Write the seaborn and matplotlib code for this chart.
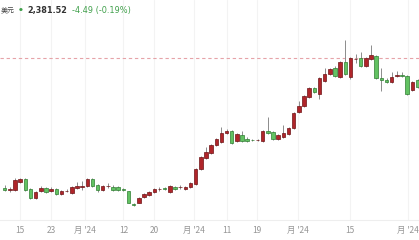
import numpy as np
import pandas as pd
import matplotlib
matplotlib.use("Agg")
import matplotlib.pyplot as plt
import seaborn as sns

# ---- data ----
opens = [2024.8, 2017.7, 2018.5, 2040.5, 2048.8, 2021.3, 1996.5, 2015.8, 2024.0, 2015.8,
         2021.3, 2007.5, 2015.8, 2010.3, 2024.0, 2028.1, 2029.5, 2048.8, 2032.3, 2018.5,
         2028.7, 2026.8, 2026.8, 2021.3, 2014.4, 1980.0, 1984.1, 1999.3, 2004.8, 2013.0,
         2020.4, 2022.6, 2013.0, 2026.8, 2026.2, 2021.3, 2026.8, 2035.0, 2076.3, 2106.5,
         2120.3, 2142.3, 2150.5, 2175.3, 2180.8, 2153.3, 2169.8, 2158.8, 2156.8, 2155.2,
         2153.3, 2179.9, 2178.0, 2158.8, 2164.3, 2172.5, 2189.0, 2233.0, 2249.5, 2274.3,
         2299.0, 2282.5, 2318.3, 2337.5, 2354.0, 2329.3, 2370.5, 2329.3, 2378.0, 2381.5,
         2359.5, 2378.8, 2387.0, 2326.5, 2321.0, 2315.5, 2332.6, 2334.8, 2332.0, 2293.5,
         2321.0]
closes = [2018.5, 2021.3, 2046.0, 2048.8, 2018.5, 1996.5, 2013.0, 2024.0, 2013.0, 2021.3,
          2007.5, 2015.8, 2017.1, 2026.8, 2029.5, 2029.0, 2048.8, 2029.5, 2018.5, 2029.5,
          2030.3, 2018.5, 2018.5, 2017.7, 1984.1, 1978.6, 1996.5, 2007.5, 2013.0, 2019.9,
          2021.3, 2021.8, 2029.5, 2021.3, 2026.8, 2026.8, 2037.8, 2076.3, 2109.3, 2123.0,
          2142.3, 2158.8, 2175.3, 2180.8, 2147.8, 2172.5, 2153.3, 2153.3, 2155.5, 2156.6,
          2180.8, 2176.6, 2158.8, 2169.8, 2175.3, 2189.0, 2230.3, 2249.5, 2277.0, 2299.0,
          2288.0, 2326.5, 2337.5, 2351.3, 2332.0, 2370.5, 2337.5, 2381.5, 2379.3, 2359.5,
          2381.5, 2389.8, 2326.5, 2321.0, 2315.5, 2329.3, 2334.2, 2333.1, 2282.5, 2315.5,
          2301.8]
highs = [2030.9, 2026.8, 2051.5, 2051.5, 2051.5, 2024.0, 2015.8, 2029.5, 2026.8, 2028.1,
         2024.0, 2018.5, 2021.3, 2029.5, 2040.5, 2043.3, 2052.3, 2051.5, 2035.0, 2032.3,
         2037.8, 2032.3, 2029.5, 2024.0, 2017.1, 1982.8, 1999.3, 2010.3, 2015.8, 2024.0,
         2025.4, 2026.8, 2032.3, 2029.5, 2030.9, 2029.5, 2040.5, 2079.0, 2112.0, 2136.8,
         2145.0, 2161.5, 2191.8, 2184.9, 2183.5, 2175.3, 2180.8, 2164.3, 2160.1, 2160.1,
         2183.5, 2219.3, 2180.8, 2172.5, 2195.9, 2191.8, 2233.0, 2263.3, 2279.8, 2301.8,
         2303.1, 2329.3, 2354.0, 2354.0, 2359.5, 2373.3, 2431.0, 2384.3, 2393.3, 2397.2,
         2384.3, 2417.3, 2389.8, 2354.0, 2326.5, 2343.8, 2345.8, 2343.0, 2334.8, 2318.3,
         2323.8]
lows = [2014.4, 2013.0, 2015.8, 2037.8, 2015.8, 1993.8, 1993.8, 2013.0, 2010.3, 2013.0,
        2004.8, 2004.8, 2013.0, 2007.5, 2021.3, 2017.7, 2026.8, 2026.8, 2012.2, 2015.8,
        2023.2, 2015.8, 2015.8, 2015.8, 1981.4, 1974.5, 1981.4, 1996.5, 2002.0, 2010.3,
        2017.1, 2018.5, 2010.3, 2018.5, 2022.6, 2018.5, 2024.0, 2032.3, 2073.5, 2103.8,
        2117.5, 2139.5, 2147.8, 2172.5, 2145.0, 2150.5, 2150.5, 2150.5, 2151.9, 2151.9,
        2150.5, 2172.5, 2156.0, 2156.0, 2161.5, 2169.8, 2186.3, 2230.3, 2246.8, 2271.5,
        2285.3, 2268.8, 2315.5, 2334.8, 2329.3, 2326.5, 2334.8, 2323.8, 2367.8, 2356.8,
        2356.8, 2376.0, 2323.8, 2290.8, 2312.8, 2312.8, 2329.3, 2329.3, 2279.8, 2290.8,
        2299.0]
tick_labels = ["15", "23", "月 '24", "12", "20", "月 '24", "11", "19", "月 '24", "15", "月 '24"]
tick_index = [3, 9, 15.5, 23, 29, 36.6, 43, 48.8, 56.8, 66.9, 78.2]
ref_price = 2381.52
header_name = "美元"
header_price = "2,381.52"
header_change = "-4.49 (-0.19%)"

df = pd.DataFrame({"open": opens, "close": closes, "high": highs, "low": lows})
df["idx"] = np.arange(len(df))
df["up"] = df["close"] >= df["open"]

sns.set_theme(style="white")
plt.rcParams["font.family"] = ["Noto Sans CJK SC", "DejaVu Sans"]

fig = plt.figure(figsize=(4.19, 2.40), dpi=100)
ax = fig.add_axes([0, 20 / 240, 1, 220 / 240])

RED, RED_EDGE = "#b0252a", "#6e1316"
GREEN, GREEN_EDGE = "#62c262", "#2f7d32"
WICK = "#8c8c8c"

for x in tick_index:
    ax.axvline(x, color="#f3f3f3", lw=0.8, zorder=0)

ax.axhline(ref_price, color="#e6a3a8", lw=0.8, ls=(0, (3, 2.5)), zorder=1)

ax.vlines(df["idx"], df["low"], df["high"], color=WICK, lw=0.7, zorder=2)
bottoms = np.minimum(df["open"], df["close"])
heights = np.maximum(np.abs(df["close"] - df["open"]), 1.2)
colors = [RED if u else GREEN for u in df["up"]]
edges = [RED_EDGE if u else GREEN_EDGE for u in df["up"]]
ax.bar(df["idx"], heights, bottom=bottoms, width=0.68, color=colors,
       edgecolor=edges, linewidth=0.5, zorder=3)

ax.set_xlim(-0.91, 80.29)
ax.set_ylim(1936, 2541)
ax.set_yticks([])
ax.set_xticks(tick_index)
ax.set_xticklabels(tick_labels)
ax.tick_params(axis="x", length=0, pad=4, labelsize=6, labelcolor="#959595")
sns.despine(ax=ax, left=True, right=True, top=True)
ax.spines["bottom"].set_color("#eeeeee")
ax.spines["bottom"].set_linewidth(0.8)

fy = 1 - 10 / 240
fig.text(0.5 / 419, fy, header_name, ha="left", va="center", fontsize=5.0, color="#444444")
fig.text(20.5 / 419, fy, "●", ha="center", va="center", fontsize=3.2, color="#3f9f4a",
         family=["DejaVu Sans"])
fig.text(27 / 419, fy, header_price, ha="left", va="center", fontsize=5.9,
         fontweight="bold", color="#333333", family=["DejaVu Sans"])
fig.text(72 / 419, fy, header_change, ha="left", va="center", fontsize=5.9,
         color="#3f9f4a", family=["DejaVu Sans"])

fig.savefig("out.png", dpi=100, facecolor="white")
